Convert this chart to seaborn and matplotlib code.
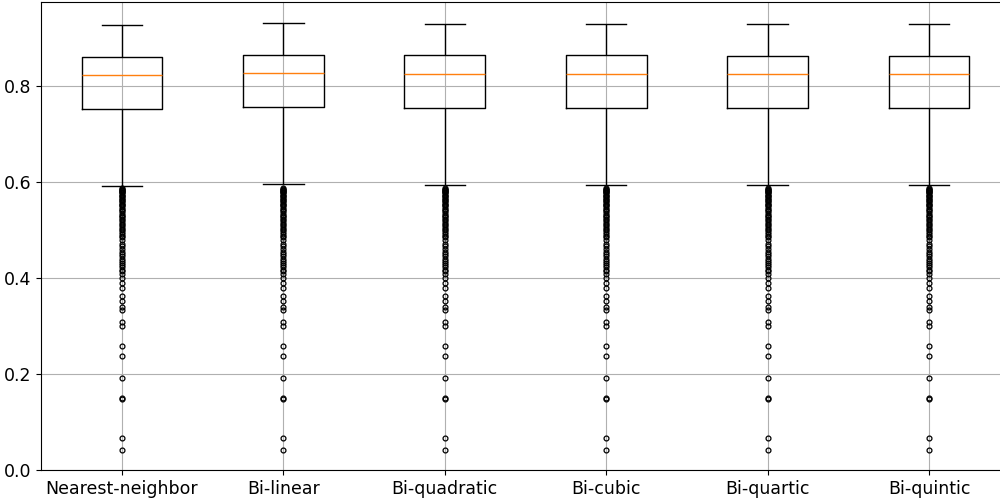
import numpy as np
import pandas as pd
import matplotlib
matplotlib.use("Agg")
import matplotlib.pyplot as plt
import seaborn as sns

# box statistics
methods = ['Nearest-neighbor', 'Bi-linear', 'Bi-quadratic', 'Bi-cubic', 'Bi-quartic', 'Bi-quintic']
q1 = [0.752, 0.7575, 0.7555, 0.7555, 0.7553, 0.7553]
median = [0.823, 0.828, 0.827, 0.827, 0.826, 0.826]
q3 = [0.861, 0.866, 0.8648, 0.8646, 0.8645, 0.8645]
whisker_low = [0.592, 0.596, 0.594, 0.594, 0.594, 0.594]
whisker_high = [0.929, 0.9325, 0.931, 0.931, 0.931, 0.931]

# outliers (below the lower whisker), nearly identical for every method
outliers = [0.588, 0.587, 0.585, 0.584, 0.582, 0.580, 0.579, 0.577, 0.574, 0.572, 0.571,
            0.568, 0.566, 0.563, 0.561, 0.559, 0.556, 0.553, 0.552, 0.549, 0.545,
            0.542, 0.540, 0.537, 0.533, 0.531, 0.527, 0.524, 0.522, 0.518, 0.514,
            0.512, 0.508, 0.503, 0.501, 0.497, 0.493, 0.489, 0.486, 0.480, 0.471,
            0.467, 0.461, 0.456, 0.450, 0.447, 0.441, 0.436, 0.433, 0.428, 0.423,
            0.418, 0.415, 0.410, 0.400, 0.390, 0.381, 0.363, 0.353, 0.340, 0.335,
            0.310, 0.301, 0.259, 0.238, 0.193, 0.151, 0.148, 0.068, 0.042]

# rebuild a sample per method that reproduces the quartiles above
rows = []
for i, m in enumerate(methods):
    vals = (outliers + [whisker_low[i]] + [q1[i]] * 300 + [median[i]] * 200
            + [q3[i]] * 300 + [whisker_high[i]])
    rows += [(m, v) for v in vals]
df = pd.DataFrame(rows, columns=['method', 'value'])

fig = plt.figure(figsize=(10, 4.99), dpi=100)
# axes runs past the right edge, as in the cropped reference
ax = fig.add_axes([0.0413, 0.0575, 0.9684, 0.9375])

sns.boxplot(data=df, x='method', y='value', order=methods, ax=ax,
            fill=False, color='black', width=0.5, linewidth=1,
            whis=1.5,
            medianprops=dict(color='#ff7f0e', linewidth=1),
            flierprops=dict(marker='o', markersize=3.5, markerfacecolor='none',
                            markeredgecolor='black', markeredgewidth=0.9))

ax.set_ylim(0, 0.975)
ax.set_xlim(-0.5, 5.5)
ax.set_yticks([0.0, 0.2, 0.4, 0.6, 0.8])
ax.grid(True, color='#b0b0b0', linewidth=0.8)
ax.set_axisbelow(True)
ax.spines['right'].set_visible(False)
ax.set_xlabel('')
ax.set_ylabel('')
ax.tick_params(labelsize=12.5)

fig.savefig('out.png', dpi=100)
